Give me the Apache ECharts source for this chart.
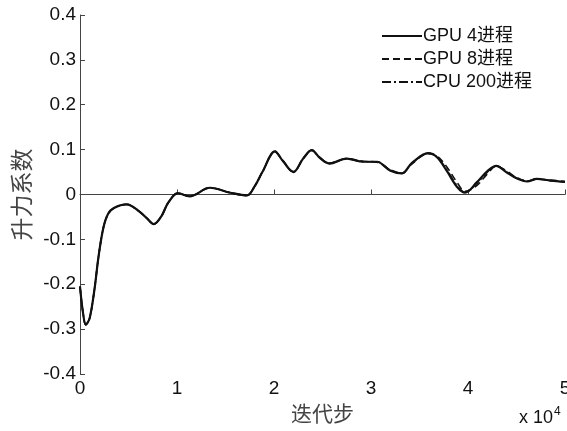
<!DOCTYPE html>
<html>
<head>
<meta charset="utf-8">
<script src="https://cdn.jsdelivr.net/npm/echarts@6/dist/echarts.min.js"></script>
<style>
html,body{margin:0;padding:0;background:#fff;overflow:hidden;}
#chart{width:567px;height:431px;}
</style>
</head>
<body>
<div id="chart"></div>
<script>
// Iteration step, in units of 10^4
var steps = [0.00, 0.03, 0.06, 0.10, 0.15, 0.19, 0.24, 0.29, 0.35, 0.48, 0.60, 0.69, 0.76, 0.84, 0.91, 1.01, 1.13, 1.34, 1.55, 1.72, 1.80, 1.88, 2.01, 2.09, 2.20, 2.30, 2.39, 2.47, 2.57, 2.75, 2.92, 3.06, 3.20, 3.32, 3.42, 3.59, 3.68, 3.78, 3.89, 3.97, 4.09, 4.20, 4.29, 4.40, 4.50, 4.61, 4.71, 4.85, 5.00];

// Lift coefficient histories
var gpu4 = [-0.205, -0.262, -0.290, -0.275, -0.210, -0.140, -0.075, -0.043, -0.030, -0.022, -0.036, -0.053, -0.066, -0.048, -0.018, 0.003, -0.004, 0.015, 0.004, -0.002, 0.018, 0.050, 0.096, 0.075, 0.050, 0.080, 0.099, 0.082, 0.069, 0.080, 0.073, 0.073, 0.053, 0.047, 0.070, 0.092, 0.083, 0.053, 0.016, 0.004, 0.027, 0.052, 0.064, 0.049, 0.036, 0.029, 0.035, 0.031, 0.028];
var gpu8 = [-0.205, -0.262, -0.290, -0.275, -0.210, -0.140, -0.075, -0.043, -0.030, -0.022, -0.036, -0.053, -0.066, -0.048, -0.018, 0.003, -0.004, 0.015, 0.004, -0.002, 0.018, 0.050, 0.095, 0.076, 0.051, 0.079, 0.098, 0.083, 0.070, 0.080, 0.074, 0.072, 0.055, 0.048, 0.068, 0.091, 0.086, 0.062, 0.026, 0.007, 0.020, 0.046, 0.063, 0.052, 0.038, 0.030, 0.034, 0.032, 0.029];
var cpu200 = [-0.205, -0.262, -0.290, -0.275, -0.210, -0.140, -0.075, -0.043, -0.030, -0.022, -0.036, -0.053, -0.066, -0.048, -0.018, 0.003, -0.004, 0.015, 0.004, -0.002, 0.018, 0.050, 0.096, 0.075, 0.050, 0.080, 0.099, 0.082, 0.069, 0.080, 0.073, 0.073, 0.054, 0.047, 0.069, 0.092, 0.084, 0.056, 0.019, 0.005, 0.024, 0.050, 0.064, 0.050, 0.037, 0.030, 0.035, 0.031, 0.028];

var seriesNames = ['GPU 4进程', 'GPU 8进程', 'CPU 200进程'];
var xTicks = ['0', '1', '2', '3', '4', '5'];

function pairs(ys) {
  return steps.map(function (x, i) { return [x, ys[i]]; });
}

var font = 'Liberation Sans, Arial, sans-serif';
var cjk = '"Noto Sans CJK SC", sans-serif';
var axisLine = { lineStyle: { color: '#444', width: 1 } };

var chart = echarts.init(document.getElementById('chart'));
chart.setOption({
  animation: false,
  backgroundColor: '#fff',
  grid: { left: 80, right: 2, top: 15, bottom: 57, containLabel: false, outerBoundsMode: 'none' },
  legend: {
    left: 376, top: 22, orient: 'vertical', itemGap: 5,
    itemWidth: 40, itemHeight: 18,
    itemStyle: { opacity: 0 },
    textStyle: { fontFamily: font + ',' + cjk, fontSize: 18, color: '#111', padding: [0, 0, 0, -4] },
    data: seriesNames
  },
  xAxis: {
    type: 'value', min: 0, max: 5, interval: 1,
    axisLine: axisLine,
    axisTick: { inside: true, length: 5, lineStyle: { color: '#444' } },
    splitLine: { show: false },
    axisLabel: {
      margin: 5, fontFamily: font, fontSize: 19, color: '#111',
      formatter: function (v) { return xTicks[Math.round(v)]; }
    },
    name: '迭代步', nameLocation: 'middle', nameGap: 27,
    nameTextStyle: { fontFamily: cjk, fontSize: 21, color: '#444' }
  },
  yAxis: {
    type: 'value', min: -0.4, max: 0.4, interval: 0.1,
    axisLine: { show: true, lineStyle: { color: '#444', width: 1 } },
    axisTick: { show: true, inside: true, length: 5, lineStyle: { color: '#444' } },
    splitLine: { show: false },
    axisLabel: {
      margin: 4, fontFamily: font, fontSize: 19, color: '#111',
      formatter: function (v) { return String(parseFloat(v.toFixed(1))); }
    },
    name: '升力系数', nameLocation: 'middle', nameGap: 42,
    nameTextStyle: { fontFamily: cjk, fontSize: 23, color: '#444' }
  },
  graphic: [{
    type: 'text', left: 519, top: 406,
    style: {
      text: '{a|x 10}{s|4}',
      rich: {
        a: { fontFamily: font, fontSize: 18, fill: '#111' },
        s: { fontFamily: font, fontSize: 12, fill: '#111', verticalAlign: 'top', padding: [0, 0, 12, 1] }
      }
    }
  }],
  series: [
    { name: seriesNames[0], type: 'line', data: pairs(gpu4), smooth: 0.35, showSymbol: false, symbol: 'none',
      lineStyle: { color: '#111', width: 2.2, type: 'solid' }, itemStyle: { color: '#111' } },
    { name: seriesNames[1], type: 'line', data: pairs(gpu8), smooth: 0.35, showSymbol: false, symbol: 'none',
      lineStyle: { color: '#111', width: 1.6, type: [7, 4] }, itemStyle: { color: '#111' } },
    { name: seriesNames[2], type: 'line', data: pairs(cpu200), smooth: 0.35, showSymbol: false, symbol: 'none',
      lineStyle: { color: '#111', width: 1.6, type: [9, 3, 2, 3] }, itemStyle: { color: '#111' } }
  ]
});
</script>
</body>
</html>
